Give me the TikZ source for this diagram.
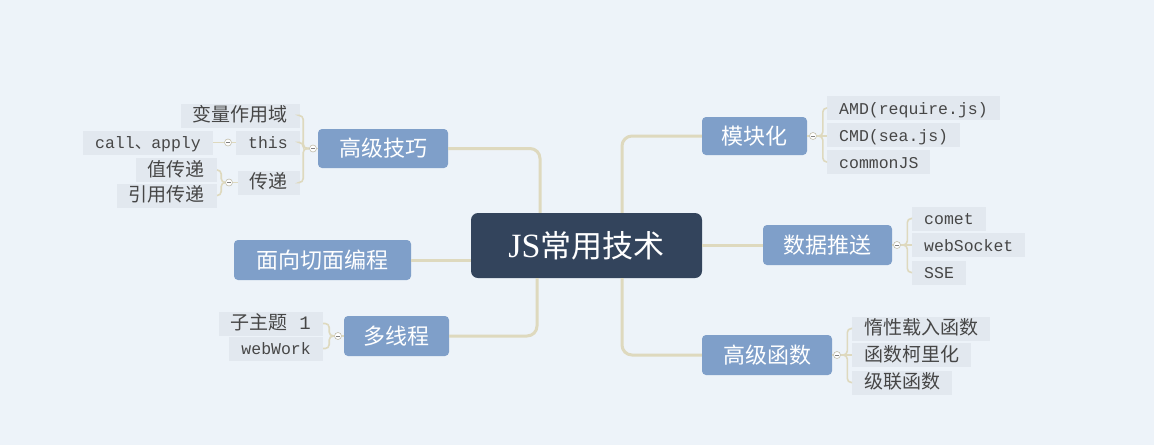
\documentclass[tikz,border=0pt]{standalone}
\usepackage{fontspec}
\newfontfamily\cjk{Noto Sans CJK SC}
\newfontfamily\mono{Liberation Mono}
\newfontfamily\rmjs{Liberation Serif}
\definecolor{bgc}{RGB}{237,243,249}
\definecolor{rootc}{RGB}{51,68,92}
\definecolor{topicc}{RGB}{127,159,201}
\definecolor{leafc}{RGB}{226,232,239}
\definecolor{linec}{RGB}{222,217,190}
\definecolor{textc}{RGB}{70,70,70}

\begin{document}
\begin{tikzpicture}[x=1pt, y=-1pt,
    root/.style={rounded corners=7pt, fill=rootc, text=white, inner sep=0pt, minimum width=231pt, minimum height=65pt, text height=44pt, text depth=20pt, font=\cjk\fontsize{31pt}{31pt}\selectfont},
    topic/.style={rounded corners=4pt, fill=topicc, text=white, inner sep=0pt, minimum height=39pt, text height=27pt, text depth=11pt, font=\cjk\fontsize{22pt}{22pt}\selectfont},
    leaf/.style={fill=leafc, text=textc, inner xsep=12pt, inner ysep=0pt, text height=18pt, text depth=6pt, font=\cjk\fontsize{19pt}{19pt}\selectfont},
    mleaf/.style={leaf, font=\mono\fontsize{16.5pt}{16.5pt}\selectfont},
    dotmark/.style={circle, draw=linec!70!gray, fill=white, line width=0.6pt, minimum size=7pt, inner sep=0pt,
      path picture={\draw[gray, line width=0.6pt] ([xshift=-2pt]path picture bounding box.center) -- ([xshift=2pt]path picture bounding box.center);}},
    trunk/.style={draw=linec, line width=3pt, rounded corners=10pt},
    twig/.style={draw=linec, line width=1.6pt, rounded corners=4pt}]

    % 背景
    \fill[bgc] (0,0) rectangle (1154,445);
    \useasboundingbox (0,0) rectangle (1154,445);

    % ノードを置く
    \node[root] (js) at (586.5,245.5) {{\rmjs\fontsize{34pt}{34pt}\selectfont JS}常用技术};
    \node[topic, minimum width=130pt] (jiqiao) at (383,148.5) {高级技巧};
    \node[topic, minimum width=177pt, minimum height=40pt] (mianxiang) at (322.5,260) {面向切面编程};
    \node[topic, minimum width=105pt, minimum height=40pt] (duoxian) at (396.5,336) {多线程};
    \node[topic, minimum width=105pt, minimum height=38pt] (mokuai) at (754.5,136) {模块化};
    \node[topic, minimum width=129pt, minimum height=40pt] (tuisong) at (827.5,245) {数据推送};
    \node[topic, minimum width=130pt, minimum height=40pt] (hanshu) at (767,355) {高级函数};

    % 小さい印
    \node[dotmark] (mk1) at (813,136) {};
    \node[dotmark] (mk2) at (897,245) {};
    \node[dotmark] (mk3) at (837,355) {};
    \node[dotmark] (mk4) at (313,148.5) {};
    \node[dotmark] (mk5) at (228,142.5) {};
    \node[dotmark] (mk6) at (229,182.5) {};
    \node[dotmark] (mk7) at (338,336) {};

    % 葉
    \node[mleaf, anchor=west] (amd) at (827,108) {AMD(require.js)};
    \node[mleaf, anchor=west] (cmd) at (827,135) {CMD(sea.js)};
    \node[mleaf, anchor=west] (cjs) at (827,162) {commonJS};
    \node[mleaf, anchor=west] (comet) at (912,218.5) {comet};
    \node[mleaf, anchor=west] (websocket) at (912,245) {webSocket};
    \node[mleaf, anchor=west] (sse) at (912,272.5) {SSE};
    \node[leaf, anchor=west] (duoxing) at (852,328.5) {惰性载入函数};
    \node[leaf, anchor=west] (kelihua) at (852,355) {函数柯里化};
    \node[leaf, anchor=west] (jilian) at (852,382.5) {级联函数};
    \node[leaf, anchor=east] (bianliang) at (300,115.5) {变量作用域};
    \node[mleaf, anchor=east] (this) at (300,142.5) {this};
    \node[leaf, anchor=east] (chuandi) at (300,182.5) {传递};
    \node[mleaf, anchor=east] (callapply) at (213,142.5) {call{\cjk 、}apply};
    \node[leaf, anchor=east] (zhi) at (217,170) {值传递};
    \node[leaf, anchor=east] (yinyong) at (217,195.5) {引用传递};
    \node[leaf, anchor=east] (zizhuti) at (323,323.5) {子主题{\mono\ 1}};
    \node[mleaf, anchor=east] (webwork) at (323,348.5) {webWork};

    % 線を引く
    \draw[trunk] ([xshift=-46.5pt]js.north) |- (jiqiao.east);
    \draw[trunk] (mianxiang.east) -- (mianxiang.east -| js.west);
    \draw[trunk] ([xshift=-49.5pt]js.south) |- (duoxian.east);
    \draw[trunk] ([xshift=35.5pt]js.north) |- (mokuai.west);
    \draw[trunk] (tuisong.west -| js.east) -- (tuisong.west);
    \draw[trunk] ([xshift=35.5pt]js.south) |- (hanshu.west);

    \draw[twig] (mokuai.east) -- (mk1.west);
    \draw[twig] (mk1.east) -- ++(6,0) |- (amd.west);
    \draw[twig] (mk1.east) -- (cmd.west |- mk1.east);
    \draw[twig] (mk1.east) -- ++(6,0) |- (cjs.west);

    \draw[twig] (tuisong.east) -- (mk2.west);
    \draw[twig] (mk2.east) -- ++(6.5,0) |- (comet.west);
    \draw[twig] (mk2.east) -- (websocket.west);
    \draw[twig] (mk2.east) -- ++(6.5,0) |- (sse.west);

    \draw[twig] (hanshu.east) -- (mk3.west);
    \draw[twig] (mk3.east) -- ++(6.5,0) |- (duoxing.west);
    \draw[twig] (mk3.east) -- (kelihua.west);
    \draw[twig] (mk3.east) -- ++(6.5,0) |- (jilian.west);

    \draw[twig] (jiqiao.west) -- (mk4.east);
    \draw[twig] (mk4.west) -- ++(-6,0) |- (bianliang.east);
    \draw[twig] (mk4.west) -- ++(-6,0) |- (this.east);
    \draw[twig] (mk4.west) -- ++(-6,0) |- (chuandi.east);

    \draw[twig] (this.west) -- (mk5.east);
    \draw[twig] (mk5.west) -- (callapply.east);

    \draw[twig] (chuandi.west) -- (mk6.east);
    \draw[twig] (mk6.west) -- ++(-4,0) |- (zhi.east);
    \draw[twig] (mk6.west) -- ++(-4,0) |- (yinyong.east);

    \draw[twig] (duoxian.west) -- (mk7.east);
    \draw[twig] (mk7.west) -- ++(-5,0) |- (zizhuti.east);
    \draw[twig] (mk7.west) -- ++(-5,0) |- (webwork.east);

\end{tikzpicture}
\end{document}
